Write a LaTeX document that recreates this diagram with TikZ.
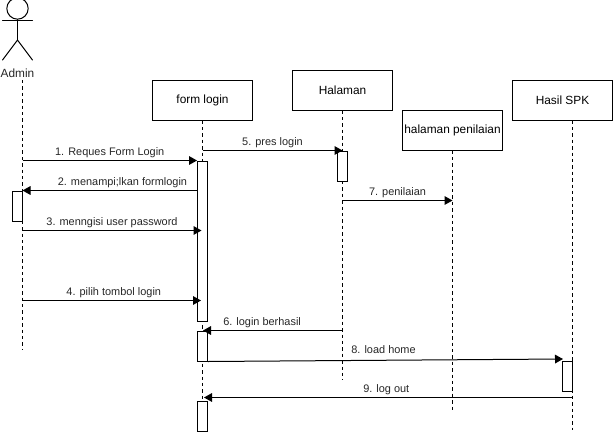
\documentclass[tikz,border=0pt]{standalone}
\usepackage{fontspec}
\setmainfont{Liberation Sans}
\usetikzlibrary{arrows.meta}
\tikzset{
  x=0.75pt,y=-0.75pt,
  obj/.style={draw=black,fill=white,line width=0.75pt,minimum width=75pt,minimum height=30pt,inner sep=0pt,font=\fontsize{8.9pt}{10pt}\selectfont},
  act/.style={draw=black,fill=white,line width=0.75pt,minimum width=7.5pt,inner sep=0pt,anchor=north},
  life/.style={dashed,dash pattern=on 2.6pt off 2.2pt,line width=0.75pt},
  msg/.style={line width=0.75pt,-{Triangle[length=6pt,width=6.5pt]}},
  lbl/.style={font=\fontsize{8.2pt}{9pt}\selectfont,text=black!85,inner sep=0pt,text height=6pt,text depth=2pt},
  limb/.style={line width=0.75pt,line cap=round}
}
\begin{document}
\begin{tikzpicture}
\useasboundingbox (0,0) rectangle (613,432);
% lifeline ends
\coordinate (adminTop) at (22,80);
\coordinate (adminEnd) at (22,350);
\coordinate (formEnd) at (202,430);
\coordinate (halEnd) at (342,380);
\coordinate (penEnd) at (452,410);
\coordinate (spkEnd) at (572,430);
% objects
\node[obj] (form) at (202.5,100) {\raisebox{-0.6pt}{form login}};
\node[obj] (hal) at (342.5,90) {\raisebox{0.4pt}{Halaman}};
\node[obj] (pen) at (452.5,130) {halaman penilaian};
\node[obj] (spk) at (562.5,100) {\raisebox{0.4pt}{Hasil SPK}};
% lifelines
\draw[life] (adminTop) -- (adminEnd);
\draw[life] (form.south -| formEnd) -- (formEnd);
\draw[life] (hal.south -| halEnd) -- (halEnd);
\draw[life] (pen.south -| penEnd) -- (penEnd);
\draw[life] (spk.south -| spkEnd) -- (spkEnd);
% actor
\node[draw=black,circle,line width=0.75pt,minimum size=16pt,inner sep=0pt] (head) at (17.5,8.5) {};
\coordinate (hip) at (17.5,40);
\coordinate (armL) at (2.5,20);
\coordinate (armR) at (32.5,20);
\coordinate (legL) at (2.5,60);
\coordinate (legR) at (32.5,60);
\draw[limb] (head.south) -- (hip);
\draw[limb] (armL) -- (armR);
\draw[limb] (legL) -- (hip) -- (legR);
\node[font=\fontsize{8.9pt}{10pt}\selectfont,text=black!85,inner sep=0pt] (admin) at (17.5,73.5) {Admin};
% activations
\node[act,minimum height=120pt] (fa1) at (202.5,160.5) {};
\node[act,minimum height=22.5pt] (fa2) at (202.5,330.5) {};
\node[act,minimum height=22.5pt] (fa3) at (202.5,400.5) {};
\node[act,minimum height=22.5pt] (ha1) at (342.5,150.5) {};
\node[act,minimum height=22.5pt] (aa1) at (17.5,190.5) {};
\node[act,minimum height=22.5pt] (sa1) at (567.5,360.5) {};
% message ends
\coordinate (a160) at (22.5,160.5);
\coordinate (a190) at (22.5,190.5);
\coordinate (a230) at (22.5,230.5);
\coordinate (a300) at (22.5,300.5);
\coordinate (f230) at (201.5,230.5);
\coordinate (f300) at (201,300.5);
\coordinate (f150) at (202.5,150.5);
\coordinate (h150) at (342.5,150.5);
\coordinate (h200) at (342.5,200.5);
\coordinate (h330) at (342.5,330.5);
\coordinate (f330) at (203,330.5);
\coordinate (p200) at (452.5,200.5);
\coordinate (s359) at (563,359);
\coordinate (s397) at (572.5,397.5);
\coordinate (f397) at (204,397.5);
% messages
\draw[msg] (a160) -- node[lbl,above=1.75pt] (l1) {1. Reques Form Login} (fa1.north west);
\draw[msg] (fa1.north west |- a190) -- node[lbl,above=1.75pt,xshift=9.5pt] (l2) {2. menampi;lkan formlogin} (a190);
\draw[msg] (a230) -- node[lbl,above=1.75pt] (l3) {3. menngisi user password} (f230);
\draw[msg] (a300) -- node[lbl,above=1.75pt,xshift=1.5pt] (l4) {4. pilih tombol login} (f300);
\draw[msg] (f150) -- node[lbl,above=1.75pt] (l5) {5. pres login} (h150);
\draw[msg] (h330) -- node[lbl,above=1.75pt,xshift=-8pt] (l6) {6. login berhasil} (f330);
\draw[msg] (h200) -- node[lbl,above=1.75pt] (l7) {7. penilaian} (p200);
\draw[msg] (fa2.south east) -- node[lbl,above=2.4pt,xshift=-1.5pt] (l8) {8. load home} (s359);
\draw[msg] (s397) -- node[lbl,above=1.75pt,xshift=-1.5pt] (l9) {9. log out} (f397);
\end{tikzpicture}
\end{document}
